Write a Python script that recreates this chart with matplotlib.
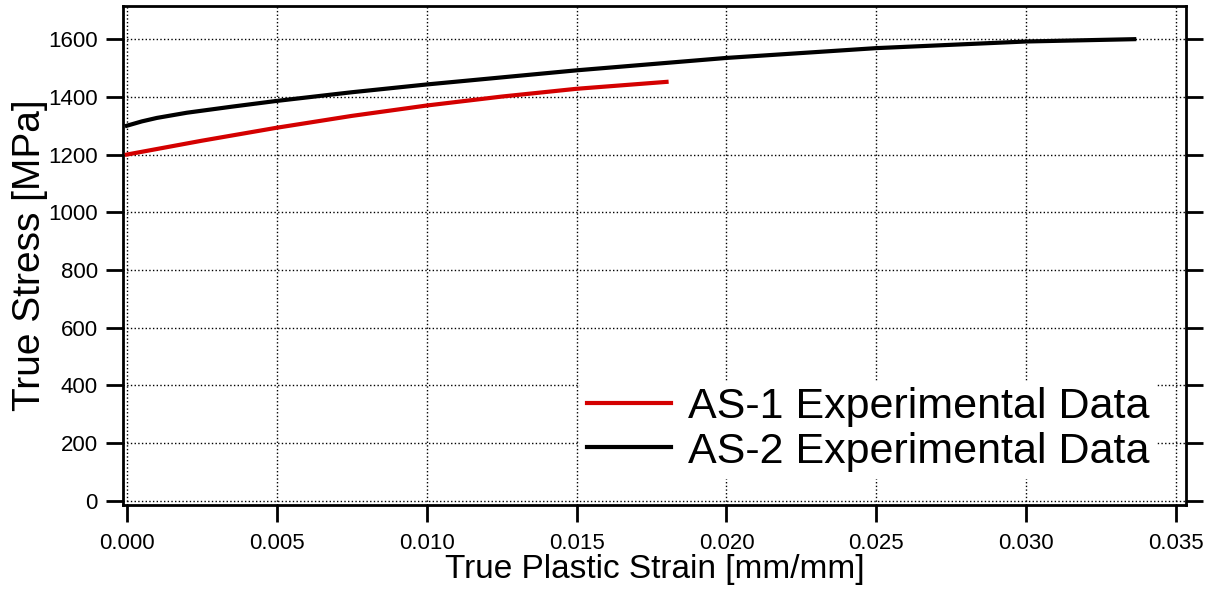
import matplotlib
matplotlib.use("Agg")
import matplotlib.pyplot as plt

# Data
as1_strain = [0.0, 0.0025, 0.005, 0.0075, 0.010, 0.0125, 0.015, 0.018]
as1_stress = [1200, 1248, 1293, 1334, 1370, 1401, 1428, 1452]

as2_strain = [0.0, 0.0005, 0.001, 0.002, 0.0035, 0.005, 0.0075, 0.010, 0.015, 0.020, 0.025, 0.030, 0.0336]
as2_stress = [1300, 1315, 1327, 1345, 1366, 1386, 1416, 1443, 1492, 1535, 1569, 1592, 1600]

x_ticks = [0.000, 0.005, 0.010, 0.015, 0.020, 0.025, 0.030, 0.035]
y_ticks = [0, 200, 400, 600, 800, 1000, 1200, 1400, 1600]

plt.rcParams['font.family'] = ['Liberation Sans', 'DejaVu Sans']

fig = plt.figure(figsize=(12.19, 5.89), dpi=100)
ax = fig.add_axes([0.1009, 0.1426, 0.9730 - 0.1009, 0.9898 - 0.1426])

ax.plot(as1_strain, as1_stress, color='#d40000', lw=3, label='AS-1 Experimental Data', zorder=3)
ax.plot(as2_strain, as2_stress, color='black', lw=3, label='AS-2 Experimental Data', zorder=3)

ax.set_xlim(-0.00013, 0.03533)
ax.set_ylim(-15, 1715)
ax.set_xticks(x_ticks)
ax.set_xticklabels([f"{v:.3f}" for v in x_ticks])
ax.set_yticks(y_ticks)

ax.grid(True, linestyle=':', color='black', lw=1.0)
ax.tick_params(axis='both', direction='out', length=12, width=2, labelsize=16)
ax.tick_params(axis='x', pad=8)
ax.tick_params(axis='y', right=True, left=True, pad=6)
for s in ax.spines.values():
    s.set_linewidth(2)

ax.set_xlabel('True Plastic Strain [mm/mm]', fontsize=24, labelpad=0)
ax.set_ylabel('True Stress [MPa]', fontsize=28, labelpad=0)

leg = ax.legend(loc='lower right', bbox_to_anchor=(0.992, 0.011), fontsize=31,
                frameon=True, fancybox=False, framealpha=1, edgecolor='white',
                handlelength=1.95, handletextpad=0.4, borderpad=0.15, labelspacing=0.1)

fig.savefig('out.png', dpi=100)
